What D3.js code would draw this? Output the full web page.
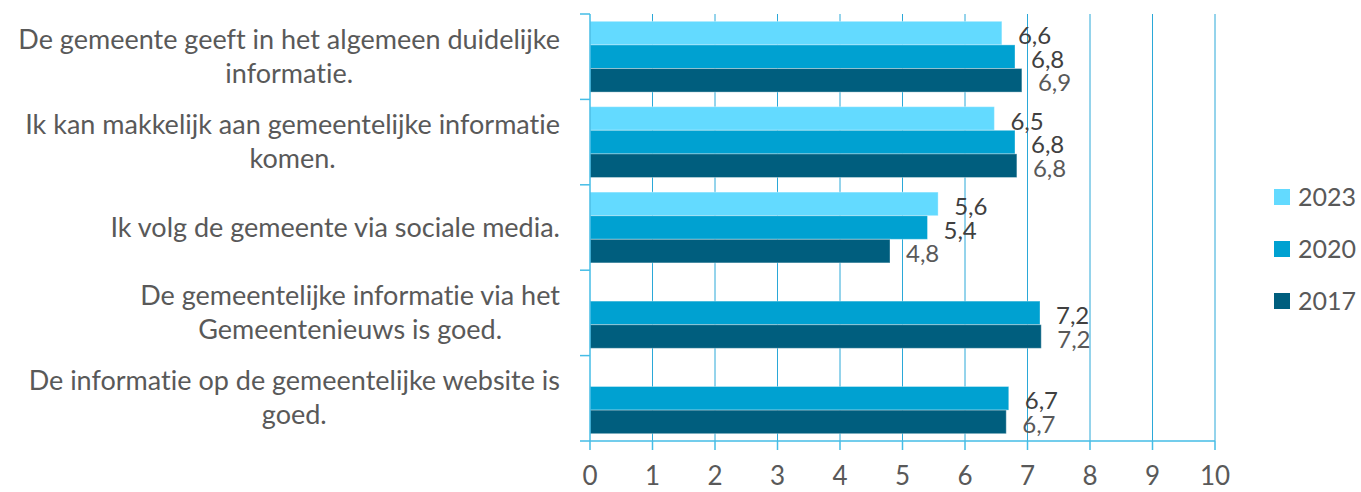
<!DOCTYPE html>
<html>
<head>
<meta charset="utf-8">
<script src="https://cdn.jsdelivr.net/npm/d3@7"></script>
<style>
  html, body { margin: 0; padding: 0; background: #fff; }
  svg { display: block; font-family: "Lato", "Open Sans", sans-serif; font-variant-ligatures: none; font-feature-settings: "liga" 0, "clig" 0; }
</style>
</head>
<body>
<svg id="chart" width="1361" height="492"></svg>
<script>
// ---- data ----
const categories = [
  "De gemeente geeft in het algemeen duidelijke\ninformatie.",
  "Ik kan makkelijk aan gemeentelijke informatie\nkomen.",
  "Ik volg de gemeente via sociale media.",
  "De gemeentelijke informatie via het\nGemeentenieuws is goed.",
  "De informatie op de gemeentelijke website is\ngoed."
];
const seriesNames = ["2023", "2020", "2017"];
const values2023 = [6.59, 6.47, 5.57, null, null];
const values2020 = [6.8, 6.8, 5.4, 7.2, 6.7];
const values2017 = [6.91, 6.83, 4.8, 7.22, 6.66];
const xTicks = [0, 1, 2, 3, 4, 5, 6, 7, 8, 9, 10];

const seriesValues = [values2023, values2020, values2017];
const colors = { "2023": "#63DAFF", "2020": "#00A1D1", "2017": "#005E7E" };
const labelColors = { "2023": "#404040", "2020": "#404040", "2017": "#595959" };

const svg = d3.select("#chart");

const x = d3.scaleLinear().domain([0, 10]).range([590, 1215]);
const y = d3.scaleBand().domain(d3.range(categories.length)).range([14, 441]).paddingInner(0).paddingOuter(0);
const inner = d3.scaleBand().domain(seriesNames).range([7.3, y.bandwidth() - 7.3]).padding(0);

// gridlines
svg.append("g").selectAll("line").data(xTicks.filter(d => d > 0)).join("line")
  .attr("x1", d => x(d)).attr("x2", d => x(d))
  .attr("y1", y.range()[0]).attr("y2", y.range()[1])
  .attr("stroke", "#2AA8D8").attr("stroke-width", 1);

// bars
const rows = [];
categories.forEach((c, i) => {
  seriesNames.forEach((s, j) => {
    const v = seriesValues[j][i];
    if (v !== null && v !== undefined) rows.push({ i, s, v });
  });
});

svg.append("g").selectAll("rect").data(rows).join("rect")
  .attr("x", x(0))
  .attr("y", d => y(d.i) + inner(d.s))
  .attr("width", d => x(d.v) - x(0))
  .attr("height", inner.bandwidth())
  .attr("fill", d => colors[d.s])
  .attr("stroke", "rgba(255,255,255,0.35)")
  .attr("stroke-width", 1);

// value labels
const fmt = d3.format(".1f");
svg.append("g").selectAll("text").data(rows).join("text")
  .attr("x", d => x(d.v) + 16)
  .attr("y", d => y(d.i) + inner(d.s) + inner.bandwidth() / 2 + 11)
  .attr("font-size", 24)
  .attr("fill", d => labelColors[d.s])
  .text(d => fmt(d.v).replace(".", ","));

// left axis
const axisColor = "#45BDE6";
svg.append("line")
  .attr("x1", x(0)).attr("x2", x(0))
  .attr("y1", y.range()[0]).attr("y2", y.range()[1])
  .attr("stroke", axisColor).attr("stroke-width", 1.5);
const boundaries = d3.range(categories.length + 1).map(k => k < categories.length ? y(k) : y.range()[1]);
svg.append("g").selectAll("line").data(boundaries).join("line")
  .attr("x1", x(0) - 10).attr("x2", x(0))
  .attr("y1", d => d).attr("y2", d => d)
  .attr("stroke", axisColor).attr("stroke-width", 1.5);

// bottom axis
const yb = y.range()[1];
svg.append("line")
  .attr("x1", x(0)).attr("x2", x(10))
  .attr("y1", yb).attr("y2", yb)
  .attr("stroke", axisColor).attr("stroke-width", 1.5);
svg.append("g").selectAll("line").data(xTicks).join("line")
  .attr("x1", d => x(d)).attr("x2", d => x(d))
  .attr("y1", yb).attr("y2", yb + 9)
  .attr("stroke", axisColor).attr("stroke-width", 1.5);
svg.append("g").selectAll("text").data(xTicks).join("text")
  .attr("x", d => x(d))
  .attr("y", 485)
  .attr("text-anchor", "middle")
  .attr("font-size", 26)
  .attr("fill", "#595959")
  .text(d => d);

// category labels
const catG = svg.append("g");
categories.forEach((c, i) => {
  const lines = c.split("\n");
  const cy = y(i) + y.bandwidth() / 2;
  const texts = lines.map((ln, k) => catG.append("text")
    .attr("y", cy + (k - (lines.length - 1) / 2) * 34 + 9)
    .attr("text-anchor", "middle")
    .attr("font-size", 27)
    .attr("fill", "#595959")
    .text(ln));
  const maxW = d3.max(texts, t => t.node().getComputedTextLength());
  texts.forEach(t => t.attr("x", 560 - maxW / 2));
});

// legend
const legend = svg.append("g");
seriesNames.forEach((s, k) => {
  const ly = 189 + k * 52;
  legend.append("rect").attr("x", 1274).attr("y", ly).attr("width", 16).attr("height", 16).attr("fill", colors[s]);
  legend.append("text").attr("x", 1298).attr("y", ly + 17)
    .attr("font-size", 25).attr("fill", "#595959").text(s);
});
</script>
</body>
</html>
